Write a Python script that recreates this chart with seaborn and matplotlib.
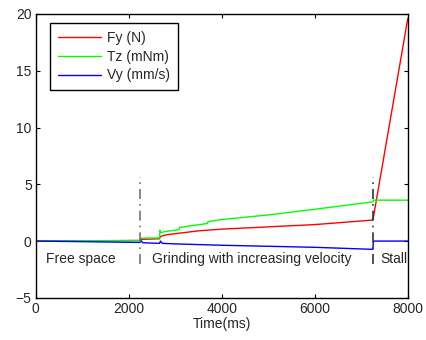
import numpy as np
import pandas as pd
import matplotlib
matplotlib.use("Agg")
import matplotlib.pyplot as plt
import seaborn as sns

# Fy (N)
fy_t = [0, 2240, 2250, 2660, 2680, 2800, 3500, 4000, 6000, 7250, 8000]
fy_v = [0.0, 0.05, 0.15, 0.2, 0.4, 0.55, 0.9, 1.05, 1.45, 1.85, 19.6]

# Tz (mNm)
tz_t = [0, 2240, 2250, 2660, 2670, 2690, 2800, 3080, 3090, 3690, 3700, 4000, 5000, 6000, 7250, 7260, 8000]
tz_v = [0.0, 0.05, 0.25, 0.28, 0.95, 0.75, 0.85, 1.0, 1.2, 1.55, 1.7, 1.9, 2.3, 2.8, 3.45, 3.6, 3.6]

# Vy (mm/s)
vy_t = [0, 2240, 2260, 2300, 2660, 2680, 2720, 3000, 4000, 6000, 7250, 7260, 8000]
vy_v = [0.0, -0.12, 0.05, -0.15, -0.2, 0.0, -0.2, -0.25, -0.37, -0.55, -0.73, 0.0, 0.0]

phase_t = [2250, 7250]
phase_labels = ["Free space", "Grinding with increasing velocity", "Stall"]
phase_label_t = [215, 2490, 7420]

sns.set_style("white")
plt.rcParams['font.family'] = ['Liberation Sans', 'DejaVu Sans']

fig, ax = plt.subplots(figsize=(4.27, 3.4), dpi=100)
fig.subplots_adjust(left=0.084, right=0.955, top=0.959, bottom=0.124)

# Lines
sns.lineplot(x=fy_t, y=fy_v, color='#ff0000', lw=1, label='Fy (N)', ax=ax, sort=False)
sns.lineplot(x=tz_t, y=tz_v, color='#00ff00', lw=1, label='Tz (mNm)', ax=ax, sort=False)
sns.lineplot(x=vy_t, y=vy_v, color='#0000ff', lw=1, label='Vy (mm/s)', ax=ax, sort=False)

# Phase separators
for t, c in zip(phase_t, ['0.45', '0.2']):
    ax.plot([t, t], [-2, 5.6], color=c, lw=1.2, ls=(0, (6, 3, 1, 3)))

# Phase labels
for t, s in zip(phase_label_t, phase_labels):
    ax.text(t, -1.55, s, fontsize=10, va='center', ha='left', clip_on=True)

ax.set_xlim(0, 8000)
ax.set_ylim(-5, 20)
ax.set_xticks([0, 2000, 4000, 6000, 8000])
ax.set_yticks([-5, 0, 5, 10, 15, 20])
ax.set_yticklabels(['\u22125', '0', '5', '10', '15', '20'])
ax.set_xlabel("Time(ms)", fontsize=10, labelpad=1)
ax.set_ylabel("")
ax.tick_params(axis='both', direction='in', length=3, width=0.8, labelsize=10,
               top=True, right=True, bottom=True, left=True, color='black', pad=3)
for sp in ax.spines.values():
    sp.set_color('black')
    sp.set_linewidth(1)

leg = ax.legend(loc='upper left', bbox_to_anchor=(0.038, 0.968), fontsize=10,
                fancybox=False, framealpha=1, edgecolor='black', handlelength=3.1,
                handletextpad=0.45, borderpad=0.55, labelspacing=0.35, borderaxespad=0)
leg.get_frame().set_linewidth(1)

fig.savefig("out.png", dpi=100)
